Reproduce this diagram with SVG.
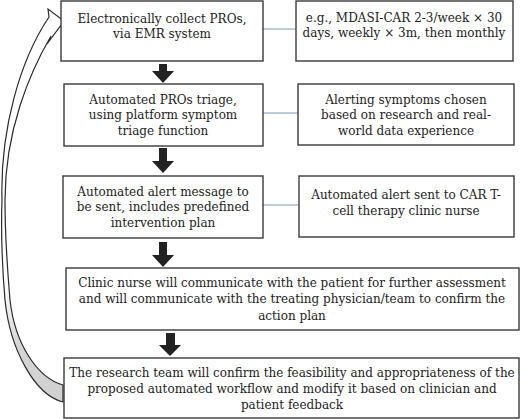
<svg xmlns="http://www.w3.org/2000/svg" width="520" height="419" viewBox="0 0 520 419">
<defs>
<style>
.box{fill:#fff;stroke:#3a3a3a;stroke-width:1.4}
.t{font-family:"DejaVu Serif","Liberation Serif",serif;font-size:12px;fill:#222;text-anchor:middle}
.link{stroke:#7f9dbd;stroke-width:1;fill:none}
.dn{fill:#222}
</style>
<linearGradient id="g" x1="0" y1="0" x2="0" y2="1">
<stop offset="0" stop-color="#ffffff"/>
<stop offset="0.7" stop-color="#ffffff"/>
<stop offset="0.85" stop-color="#d6d6d6"/>
<stop offset="1" stop-color="#d0d0d0"/>
</linearGradient>
</defs>
<rect width="520" height="419" fill="#fff"/>
<g id="connectors">
<line class="link" x1="263" y1="29" x2="296" y2="29"/>
<line class="link" x1="263" y1="113" x2="298" y2="113"/>
<line class="link" x1="263" y1="205" x2="299" y2="205"/>
<path class="dn" d="M159,64 H167 V71 H174 L163,83 L152,71 H159 Z"/>
<path class="dn" d="M159,148 H167 V161 H174 L163,173 L152,161 H159 Z"/>
<path class="dn" d="M159,242 H167 V255 H174 L163,267 L152,255 H159 Z"/>
<path class="dn" d="M166,333 H175 V345 H181 L170,356 L159,345 H166 Z"/>
<path id="loop" d="M63,402 C35,395 10,350 5,300 C2,265 1,230 2,200 C0,130 20,60 49,17 L48,9 L64,21 L47,44 L51,36 C30,72 5,130 5,200 C5,230 7,265 10,300 C15,345 38,378 63,385 Z" fill="url(#g)" stroke="#2a2a2a" stroke-width="1.2" stroke-linejoin="miter"/>
</g>
<g id="n1">
<rect class="box" x="61" y="1" width="202" height="60"/>
<text class="t" x="162" y="23">Electronically collect PROs,</text>
<text class="t" x="162" y="38">via EMR system</text>
</g>
<g id="s1">
<rect class="box" x="296" y="1" width="217" height="60"/>
<text class="t" x="404" y="22">e.g., MDASI-CAR 2-3/week × 30</text>
<text class="t" x="404" y="37">days, weekly × 3m, then monthly</text>
</g>
<g id="n2">
<rect class="box" x="64" y="84" width="199" height="62"/>
<text class="t" x="163" y="104">Automated PROs triage,</text>
<text class="t" x="163" y="119">using platform symptom</text>
<text class="t" x="163" y="135">triage function</text>
</g>
<g id="s2">
<rect class="box" x="298" y="84" width="216" height="61"/>
<text class="t" x="406" y="104">Alerting symptoms chosen</text>
<text class="t" x="406" y="119">based on research and real-</text>
<text class="t" x="406" y="135">world data experience</text>
</g>
<g id="n3">
<rect class="box" x="63" y="176" width="200" height="62"/>
<text class="t" x="163" y="196">Automated alert message to</text>
<text class="t" x="163" y="211">be sent, includes predefined</text>
<text class="t" x="163" y="227">intervention plan</text>
</g>
<g id="s3">
<rect class="box" x="299" y="176" width="215" height="61"/>
<text class="t" x="406" y="199">Automated alert sent to CAR T-</text>
<text class="t" x="406" y="215">cell therapy clinic nurse</text>
</g>
<g id="n4">
<rect class="box" x="66" y="268" width="453" height="62"/>
<text class="t" x="292" y="287">Clinic nurse will communicate with the patient for further assessment</text>
<text class="t" x="292" y="303">and will communicate with the treating physician/team to confirm the</text>
<text class="t" x="292" y="320">action plan</text>
</g>
<g id="n5">
<rect class="box" x="64" y="358" width="455" height="60"/>
<text class="t" x="292" y="377">The research team will confirm the feasibility and appropriateness of the</text>
<text class="t" x="292" y="393">proposed automated workflow and modify it based on clinician and</text>
<text class="t" x="292" y="409">patient feedback</text>
</g>
</svg>
